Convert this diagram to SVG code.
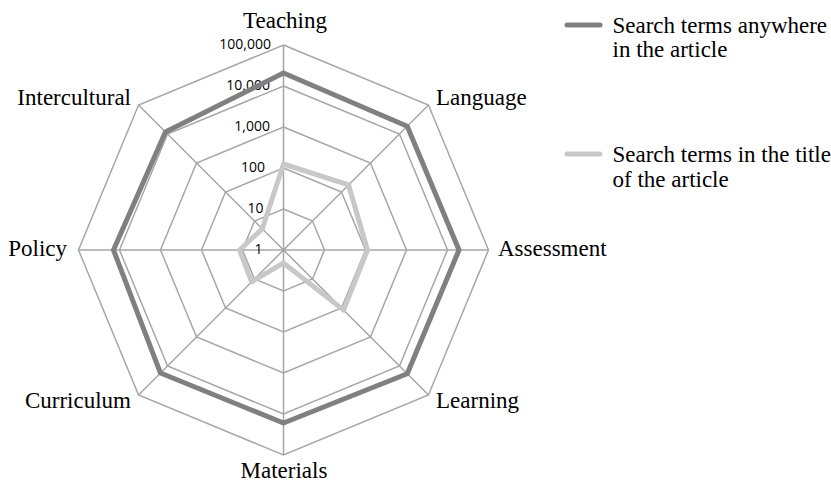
<svg xmlns="http://www.w3.org/2000/svg" width="831" height="488" viewBox="0 0 831 488">
<style>
.grid{fill:none;stroke:#a6a6a6;stroke-width:1.5}
.s1{fill:none;stroke:#808080;stroke-width:5;stroke-linejoin:round}
.s2{fill:none;stroke:#c8c8c8;stroke-width:5;stroke-linejoin:round}
.cat{font-family:"Liberation Serif","Times New Roman",serif;font-size:23px;fill:#000}
.tick{font-family:"Open Sans","Liberation Sans",sans-serif;font-size:14px;fill:#000;text-anchor:end}
</style>
<rect width="831" height="488" fill="#fff"/>
<g id="grid">
<polygon class="grid" points="283.5,209 312.49,221.01 324.5,250 312.49,278.99 283.5,291 254.51,278.99 242.5,250 254.51,221.01"/>
<polygon class="grid" points="283.5,168 341.48,192.02 365.5,250 341.48,307.98 283.5,332 225.52,307.98 201.5,250 225.52,192.02"/>
<polygon class="grid" points="283.5,127 370.47,163.03 406.5,250 370.47,336.97 283.5,373 196.53,336.97 160.5,250 196.53,163.03"/>
<polygon class="grid" points="283.5,86 399.47,134.03 447.5,250 399.47,365.97 283.5,414 167.53,365.97 119.5,250 167.53,134.03"/>
<polygon class="grid" points="283.5,45 428.46,105.04 488.5,250 428.46,394.96 283.5,455 138.54,394.96 78.5,250 138.54,105.04"/>
<path class="grid" d="M283.5,250L283.5,45M283.5,250L428.46,105.04M283.5,250L488.5,250M283.5,250L428.46,394.96M283.5,250L283.5,455M283.5,250L138.54,394.96M283.5,250L78.5,250M283.5,250L138.54,105.04"/>
</g>
<g id="ticks">
<text class="tick" x="271" y="49">100,000</text>
<text class="tick" x="270" y="90">10,000</text>
<text class="tick" x="270" y="131">1,000</text>
<text class="tick" x="265" y="172">100</text>
<text class="tick" x="263.5" y="213">10</text>
<text class="tick" x="262.5" y="254">1</text>
</g>
<g id="series">
<polygon id="series-anywhere" class="s1" points="283.5,73 407.24,126.26 459,250 407.24,373.74 283.5,423 160.46,373.04 113.5,250 165.41,131.91"/>
<polygon id="series-title" class="s2" points="283.5,164 348.55,184.95 367.5,250 343.6,310.1 283.5,263 251.68,281.82 239.5,250 262.29,228.79"/>
</g>
<g id="labels">
<text id="teaching" class="cat" x="285" y="28" text-anchor="middle">Teaching</text>
<text id="language" class="cat" x="436" y="105">Language</text>
<text id="assessment" class="cat" x="498" y="256">Assessment</text>
<text id="learning" class="cat" x="436" y="408">Learning</text>
<text id="materials" class="cat" x="284" y="478" text-anchor="middle">Materials</text>
<text id="curriculum" class="cat" x="131" y="408" text-anchor="end">Curriculum</text>
<text id="policy" class="cat" x="67" y="256" text-anchor="end">Policy</text>
<text id="intercultural" class="cat" x="131" y="105" text-anchor="end">Intercultural</text>
</g>
<g id="legend">
<line x1="567" y1="25" x2="600" y2="25" stroke="#808080" stroke-width="5" stroke-linecap="round"/>
<text class="cat" x="612.5" y="32.5">Search terms anywhere</text>
<text class="cat" x="612.5" y="57">in the article</text>
<line x1="567" y1="154" x2="600" y2="154" stroke="#c8c8c8" stroke-width="5" stroke-linecap="round"/>
<text class="cat" x="612.5" y="162">Search terms in the title</text>
<text class="cat" x="612.5" y="186.5">of the article</text>
</g>
</svg>
